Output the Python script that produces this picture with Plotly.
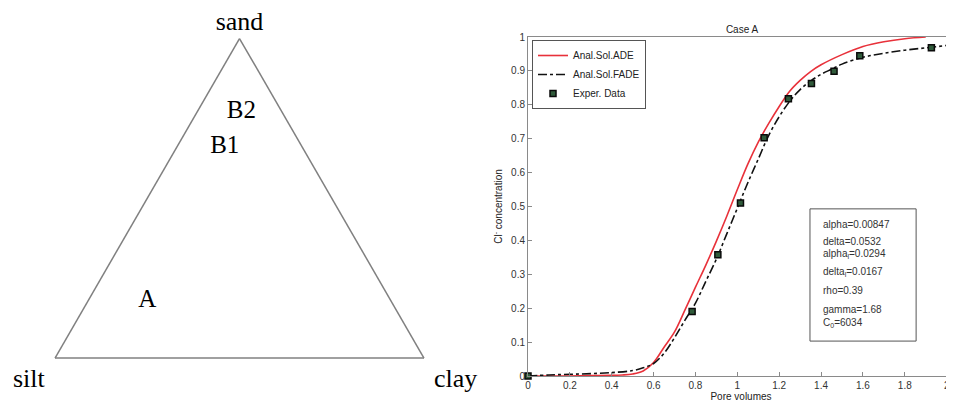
import plotly.graph_objects as go

# ---------------- data ----------------
# ternary soil-texture samples (fractions)
sample_names = ["A", "B1", "B2"]
sand_frac = [0.18, 0.66, 0.77]
silt_frac = [0.66, 0.21, 0.11]
clay_frac = [0.16, 0.13, 0.12]

# breakthrough curves, Case A
ade_x = [0, 0.1, 0.2, 0.3, 0.4, 0.45, 0.5, 0.55, 0.6, 0.65, 0.7, 0.75, 0.8, 0.85, 0.9,
         0.95, 1.0, 1.05, 1.1, 1.15, 1.2, 1.25, 1.3, 1.35, 1.4, 1.5, 1.6, 1.7, 1.8, 1.9]
ade_y = [0, 0, 0, 0.001, 0.002, 0.003, 0.006, 0.015, 0.04, 0.085, 0.13, 0.195, 0.262, 0.328, 0.398,
         0.472, 0.55, 0.625, 0.69, 0.745, 0.795, 0.84, 0.872, 0.898, 0.918, 0.948, 0.972, 0.986, 0.995, 1.0]

fade_x = [0, 0.1, 0.2, 0.3, 0.4, 0.5, 0.55, 0.6, 0.65, 0.7, 0.75, 0.8, 0.85, 0.9, 0.95, 1.0,
          1.05, 1.1, 1.15, 1.2, 1.25, 1.3, 1.35, 1.4, 1.45, 1.5, 1.6, 1.7, 1.8, 1.9, 2.0, 2.04]
fade_y = [0, 0.003, 0.005, 0.007, 0.01, 0.016, 0.024, 0.037, 0.067, 0.113, 0.165, 0.215, 0.28, 0.345, 0.42, 0.495,
          0.57, 0.64, 0.71, 0.765, 0.81, 0.845, 0.87, 0.89, 0.905, 0.92, 0.94, 0.952, 0.961, 0.968, 0.975, 0.978]

exp_x = [0, 0.784, 0.907, 1.015, 1.128, 1.244, 1.354, 1.462, 1.585, 1.927, 2.027]
exp_y = [0, 0.19, 0.358, 0.51, 0.703, 0.818, 0.863, 0.899, 0.945, 0.968, 0.978]

param_lines = ["alpha=0.00847", "delta=0.0532", "alpha<sub>l</sub>=0.0294", "delta<sub>l</sub>=0.0167",
               "rho=0.39", "gamma=1.68", "C<sub>0</sub>=6034"]
param_y = [0.448, 0.398, 0.361, 0.308, 0.253, 0.197, 0.155]

x_ticks = [0, 0.2, 0.4, 0.6, 0.8, 1, 1.2, 1.4, 1.6, 1.8, 2]
x_tick_text = ["0", "0.2", "0.4", "0.6", "0.8", "1", "1.2", "1.4", "1.6", "1.8", "2"]
y_ticks = [0, 0.1, 0.2, 0.3, 0.4, 0.5, 0.6, 0.7, 0.8, 0.9, 1]
y_tick_text = ["0", "0.1", "0.2", "0.3", "0.4", "0.5", "0.6", "0.7", "0.8", "0.9", "1"]

# ---------------- layout helpers ----------------
OFF = 8                      # page body margin
W, H = 954 - OFF, 405 - OFF  # figure size so it fits the window


def fx(px):
    return (px - OFF) / W


def fy(py):
    return 1 - (py - OFF) / H


SERIF = "Liberation Serif, Times New Roman, serif"
SANS = "Liberation Sans, Arial, Helvetica, sans-serif"

fig = go.Figure()

fig.add_trace(go.Scatterternary(
    a=sand_frac, b=silt_frac, c=clay_frac, text=sample_names,
    mode="text", textposition="middle center",
    textfont=dict(family=SERIF, size=25, color="black"),
    showlegend=False, hoverinfo="text", subplot="ternary"))

fig.add_trace(go.Scatter(x=ade_x, y=ade_y, mode="lines", name="Anal.Sol.ADE",
                         line=dict(color="#e8313a", width=1.6), line_shape="spline"))
fig.add_trace(go.Scatter(x=fade_x, y=fade_y, mode="lines", name="Anal.Sol.FADE",
                         line=dict(color="#111111", width=1.6, dash="dashdot"), line_shape="spline"))
fig.add_trace(go.Scatter(x=exp_x, y=exp_y, mode="markers", name="Exper. Data",
                         marker=dict(symbol="square", size=6, color="#2f5a3a",
                                     line=dict(color="#0a0a0a", width=1.5)),
                         cliponaxis=False))

tern_ax = dict(showline=True, linecolor="#808080", linewidth=1.5, showgrid=False,
               showticklabels=False, ticks="")
fig.update_layout(
    ternary=dict(
        domain=dict(x=[fx(55), fx(424)], y=[fy(358), fy(38.5)]),
        sum=1, bgcolor="white",
        aaxis=dict(tern_ax, title=dict(text="sand", font=dict(family=SERIF, size=26, color="black"))),
        baxis=dict(tern_ax, title=dict(text="")),
        caxis=dict(tern_ax, title=dict(text="")),
    )
)

ax_common = dict(showline=True, linecolor="#8a8a8a", linewidth=1, ticks="inside", ticklen=4,
                 tickcolor="#8a8a8a", showgrid=False, zeroline=False, automargin=False,
                 tickfont=dict(family=SANS, size=10, color="#333333"))
fig.update_layout(
    xaxis=dict(ax_common, domain=[fx(528), 1.0], range=[0, 2.035], mirror=True,
               tickvals=x_ticks, ticktext=x_tick_text,
               title=dict(text="Pore volumes", font=dict(family=SANS, size=10, color="#222"), standoff=2)),
    yaxis=dict(ax_common, domain=[fy(376), fy(37)], range=[0, 1],
               tickvals=y_ticks, ticktext=y_tick_text,
               title=dict(text="Cl<sup>-</sup> concentration", font=dict(family=SANS, size=10, color="#222"),
                          standoff=6)),
    title=dict(text="Case A", x=fx(742), y=fy(29), xanchor="center", yanchor="middle",
               font=dict(family=SANS, size=10, color="#222")),
    legend=dict(x=fx(532), y=fy(40), xanchor="left", yanchor="top", bgcolor="white",
                bordercolor="#555555", borderwidth=1, font=dict(family=SANS, size=10, color="#222"),
                tracegroupgap=0),
    width=W, height=H, margin=dict(l=0, r=0, t=0, b=0),
    paper_bgcolor="white", plot_bgcolor="white", showlegend=True,
)

# parameter box
fig.add_shape(type="rect", xref="x", yref="y", x0=1.347, x1=1.854, y0=0.103, y1=0.493,
              line=dict(color="#555555", width=1), fillcolor="rgba(0,0,0,0)")
for txt, yy in zip(param_lines, param_y):
    fig.add_annotation(x=1.40, y=yy, xref="x", yref="y", text=txt, showarrow=False,
                       xanchor="left", yanchor="middle",
                       font=dict(family=SANS, size=10, color="#333333"))

# ternary vertex labels for silt and clay
fig.add_annotation(x=fx(29), y=fy(378), xref="paper", yref="paper", text="silt", showarrow=False,
                   xanchor="center", yanchor="middle", font=dict(family=SERIF, size=26, color="black"))
fig.add_annotation(x=fx(455.5), y=fy(378), xref="paper", yref="paper", text="clay", showarrow=False,
                   xanchor="center", yanchor="middle", font=dict(family=SERIF, size=26, color="black"))

fig.write_html("out.html")
